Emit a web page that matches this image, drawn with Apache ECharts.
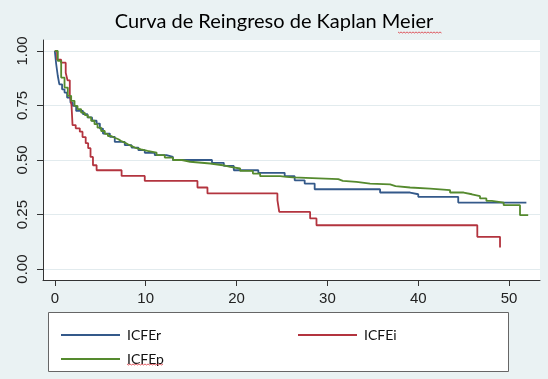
<!DOCTYPE html>
<html>
<head>
<meta charset="utf-8">
<script src="https://cdn.jsdelivr.net/npm/echarts@6/dist/echarts.min.js"></script>
<style>
  html, body { margin: 0; padding: 0; background: #eaf2f3; }
  #chart { width: 548px; height: 379px; }
</style>
</head>
<body>
<div id="chart"></div>
<script>
// tiempos (meses) y supervivencia estimada por grupo
var tR = [0, 0.15, 0.33, 0.5, 0.8, 1.07, 1.35, 1.72, 1.98, 2.35, 3.1, 3.6, 4.1, 4.6, 4.96, 5.3, 6.06, 6.6, 7.7, 8.45, 9.2, 9.9, 11, 12.3, 13, 17.3, 18.6, 19.7, 22.4, 25.3, 26.4, 27.5, 28.6, 35.8, 39.1, 40, 44.4, 51.9];
var sR = [1, 0.94, 0.885, 0.847, 0.824, 0.809, 0.786, 0.763, 0.748, 0.725, 0.71, 0.695, 0.68, 0.667, 0.644, 0.621, 0.606, 0.583, 0.568, 0.557, 0.545, 0.533, 0.522, 0.514, 0.5, 0.487, 0.473, 0.453, 0.441, 0.426, 0.407, 0.392, 0.366, 0.351, 0.343, 0.331, 0.305, 0.305];

var tI = [0, 0.25, 0.7, 1.2, 1.4, 1.65, 1.84, 1.95, 2.3, 2.75, 3.05, 3.4, 3.67, 3.93, 4.2, 4.6, 7.35, 9.9, 15.7, 16.8, 24.5, 24.7, 28.1, 28.8, 46.5, 49.0];
var sI = [1, 0.96, 0.946, 0.9, 0.865, 0.8, 0.75, 0.66, 0.645, 0.63, 0.605, 0.577, 0.554, 0.514, 0.476, 0.453, 0.427, 0.404, 0.374, 0.347, 0.316, 0.262, 0.232, 0.201, 0.148, 0.099];

var tP = [0, 0.33, 0.7, 1.07, 1.43, 1.8, 2.17, 2.5, 2.9, 3.3, 3.63, 4.0, 4.37, 4.7, 5.1, 5.5, 5.84, 6.2, 6.6, 7.0, 7.3, 7.7, 8.04, 8.4, 8.8, 9.5, 10.2, 11.2, 12.1, 13, 14, 14.9, 17.1, 18.5, 19.3, 20.4, 21.8, 22.6, 24.8, 25.5, 26.2, 31.2, 31.7, 33.2, 34.7, 36.9, 37.5, 39.1, 41.3, 43.5, 45, 45.9, 46.8, 47.5, 48.1, 49.4, 51.2, 52.1];
var sP = [1, 0.954, 0.878, 0.832, 0.794, 0.771, 0.748, 0.733, 0.717, 0.706, 0.695, 0.68, 0.664, 0.648, 0.633, 0.62, 0.61, 0.602, 0.595, 0.587, 0.58, 0.572, 0.565, 0.557, 0.549, 0.542, 0.534, 0.522, 0.511, 0.5, 0.492, 0.484, 0.476, 0.468, 0.461, 0.45, 0.438, 0.426, 0.423, 0.42, 0.412, 0.404, 0.4, 0.392, 0.388, 0.38, 0.374, 0.369, 0.362, 0.351, 0.343, 0.334, 0.324, 0.313, 0.305, 0.293, 0.247, 0.247];

var xTicks = [0, 10, 20, 30, 40, 50];
var yTicks = [0, 0.25, 0.5, 0.75, 1];

function pares(t, s) {
    var out = [];
    for (var i = 0; i < t.length; i++) {
        out.push([t[i], s[i]]);
    }
    return out;
}

var chart = echarts.init(document.getElementById('chart'));

function serie(nombre, color, t, s) {
    return {
        name: nombre,
        type: 'line',
        step: 'end',
        symbol: 'none',
        lineStyle: { color: color, width: 1.8 },
        itemStyle: { color: color },
        data: pares(t, s)
    };
}

function leyenda(nombre, left, top) {
    return {
        data: [nombre],
        left: left,
        top: top,
        icon: 'rect',
        itemWidth: 59,
        itemHeight: 2,
        z: 5,
        textStyle: { fontFamily: 'Lato', fontSize: 14, color: '#111', padding: [0, 0, 0, 2] }
    };
}

// subrayado ondulado del corrector (decorativo)
function ondulado(x0, x1, y) {
    var pts = [];
    for (var x = x0, k = 0; x <= x1; x += 1.5, k++) {
        pts.push([x, y + (k % 2 ? 1 : 0)]);
    }
    return {
        type: 'polyline', z: 6, silent: true,
        shape: { points: pts },
        style: { stroke: '#d9343c', lineWidth: 0.8, fill: null }
    };
}

chart.setOption({
    animation: false,
    backgroundColor: '#eaf2f3',
    title: {
        text: 'Curva de Reingreso de Kaplan Meier',
        left: 'center',
        top: 7,
        textStyle: { fontFamily: 'Lato', fontSize: 20, fontWeight: 'normal', color: '#000' }
    },
    grid: {
        left: 43, right: 8, top: 40, bottom: 99,
        show: true, backgroundColor: '#ffffff', borderWidth: 0
    },
    xAxis: {
        type: 'value',
        min: -1.3,
        max: 53.4,
        axisLine: { onZero: false, lineStyle: { color: '#333', width: 1 } },
        axisTick: { customValues: xTicks, length: 6, lineStyle: { color: '#333' } },
        axisLabel: { customValues: xTicks, margin: 11, fontFamily: 'Liberation Sans', fontSize: 15, color: '#222' },
        splitLine: { show: false }
    },
    yAxis: {
        type: 'value',
        min: -0.05,
        max: 1.05,
        axisLine: { show: true, onZero: false, lineStyle: { color: '#333', width: 1 } },
        axisTick: { show: true, customValues: yTicks, length: 6, lineStyle: { color: '#333' } },
        axisLabel: {
            customValues: yTicks, rotate: 90, margin: 13,
            fontFamily: 'Liberation Sans', fontSize: 15, color: '#222',
            formatter: function (v) { return v.toFixed(2); }
        },
        splitLine: { show: true, lineStyle: { color: '#e2ebee', width: 1 } }
    },
    legend: [
        leyenda('ICFEr', 56, 323),
        leyenda('ICFEi', 293, 323),
        leyenda('ICFEp', 56, 347)
    ],
    graphic: [{
        type: 'rect',
        z: 1,
        shape: { x: 48.5, y: 312.5, width: 460, height: 59 },
        style: { fill: '#ffffff', stroke: '#666', lineWidth: 1 }
    },
    ondulado(398, 442, 32),
    ondulado(127, 163, 364)
    ],
    series: [
        serie('ICFEr', '#34598a', tR, sR),
        serie('ICFEi', '#b3343f', tI, sI),
        serie('ICFEp', '#558a2e', tP, sP)
    ]
});
</script>
</body>
</html>
